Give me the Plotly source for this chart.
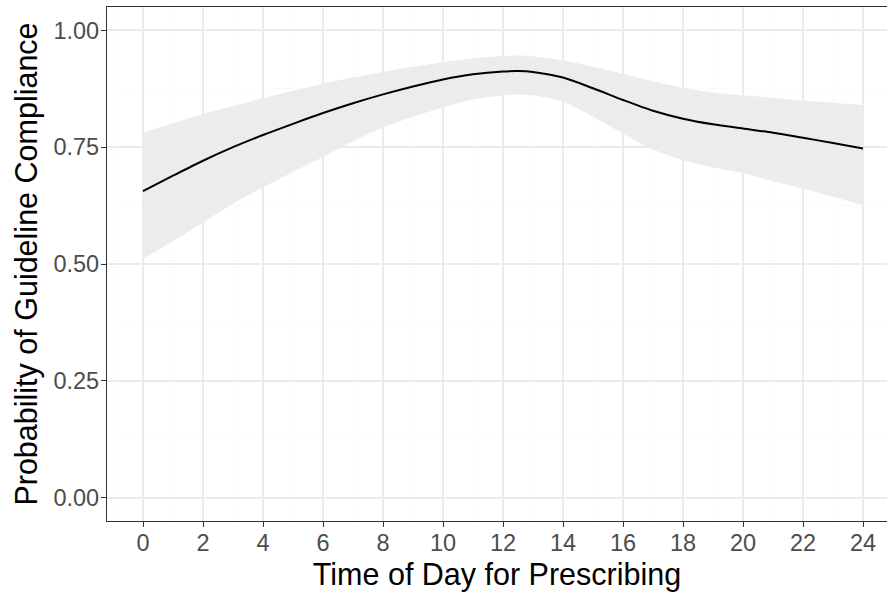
import plotly.graph_objects as go

# Fitted probability of guideline compliance by hour of prescribing
hours = [0, 1, 2, 3, 4, 5, 6, 7, 8, 9, 10, 11, 12, 12.5, 13, 14, 15, 16, 17, 18, 19, 20, 21, 22, 23, 24]
fit = [0.656, 0.689, 0.721, 0.750, 0.776, 0.800, 0.823, 0.844, 0.863, 0.880, 0.895, 0.906, 0.912, 0.913,
       0.911, 0.899, 0.876, 0.851, 0.828, 0.811, 0.799, 0.790, 0.781, 0.770, 0.759, 0.747]
upper = [0.781, 0.801, 0.821, 0.838, 0.855, 0.871, 0.886, 0.899, 0.911, 0.922, 0.932, 0.940, 0.945, 0.946,
         0.944, 0.936, 0.922, 0.907, 0.891, 0.877, 0.867, 0.861, 0.856, 0.850, 0.845, 0.840]
lower = [0.510, 0.549, 0.589, 0.629, 0.664, 0.697, 0.729, 0.763, 0.792, 0.815, 0.835, 0.852, 0.861, 0.863,
         0.861, 0.847, 0.815, 0.779, 0.745, 0.722, 0.707, 0.694, 0.677, 0.661, 0.644, 0.626]

x_ticks = list(range(0, 25, 2))
y_ticks = [0.0, 0.25, 0.5, 0.75, 1.0]
y_tick_text = ["0.00", "0.25", "0.50", "0.75", "1.00"]

FONT = "Liberation Sans, Arial, sans-serif"
RIBBON = "rgb(236,236,236)"

fig = go.Figure()

# Confidence ribbon: lower bound, then upper bound filled down to it
fig.add_trace(go.Scatter(
    x=hours, y=lower, mode="lines",
    line=dict(width=0, color=RIBBON, shape="spline", smoothing=0.8),
    hoverinfo="skip", showlegend=False,
))
fig.add_trace(go.Scatter(
    x=hours, y=upper, mode="lines",
    line=dict(width=0, color=RIBBON, shape="spline", smoothing=0.8),
    fill="tonexty", fillcolor=RIBBON,
    hoverinfo="skip", showlegend=False,
))

# Fitted curve
fig.add_trace(go.Scatter(
    x=hours, y=fit, mode="lines",
    line=dict(color="black", width=2, shape="spline", smoothing=0.8),
    showlegend=False,
))

fig.update_layout(
    width=887, height=592,
    margin=dict(l=107, r=0, t=7, b=71),
    paper_bgcolor="white", plot_bgcolor="white",
    font=dict(family=FONT),
    showlegend=False,
)

fig.update_xaxes(
    range=[-1.2, 24.8],
    tickvals=x_ticks,
    tickfont=dict(size=23.5, color="#4D4D4D", family=FONT),
    ticks="outside", ticklen=5, tickcolor="#333333", tickwidth=1,
    ticklabelstandoff=-4,
    showgrid=True, gridcolor="#EBEBEB", gridwidth=1.5,
    minor=dict(dtick=1, showgrid=True, gridcolor="#FAFAFA", gridwidth=1),
    showline=True, linecolor="#333333", linewidth=1.2, mirror=True,
    zeroline=False,
    title=dict(text="Time of Day for Prescribing", font=dict(size=30.5, color="black", family=FONT), standoff=10),
)

fig.update_yaxes(
    range=[-0.05, 1.05],
    tickvals=y_ticks, ticktext=y_tick_text,
    tickfont=dict(size=23.5, color="#4D4D4D", family=FONT),
    ticks="outside", ticklen=5, tickcolor="#333333", tickwidth=1,
    ticklabelstandoff=-3,
    showgrid=True, gridcolor="#EBEBEB", gridwidth=1.5,
    minor=dict(dtick=0.125, showgrid=True, gridcolor="#FAFAFA", gridwidth=1),
    showline=True, linecolor="#333333", linewidth=1.2, mirror=False,
    zeroline=False,
    title=dict(text="Probability of Guideline Compliance", font=dict(size=30.5, color="black", family=FONT), standoff=6),
)

fig.write_html("out.html")
